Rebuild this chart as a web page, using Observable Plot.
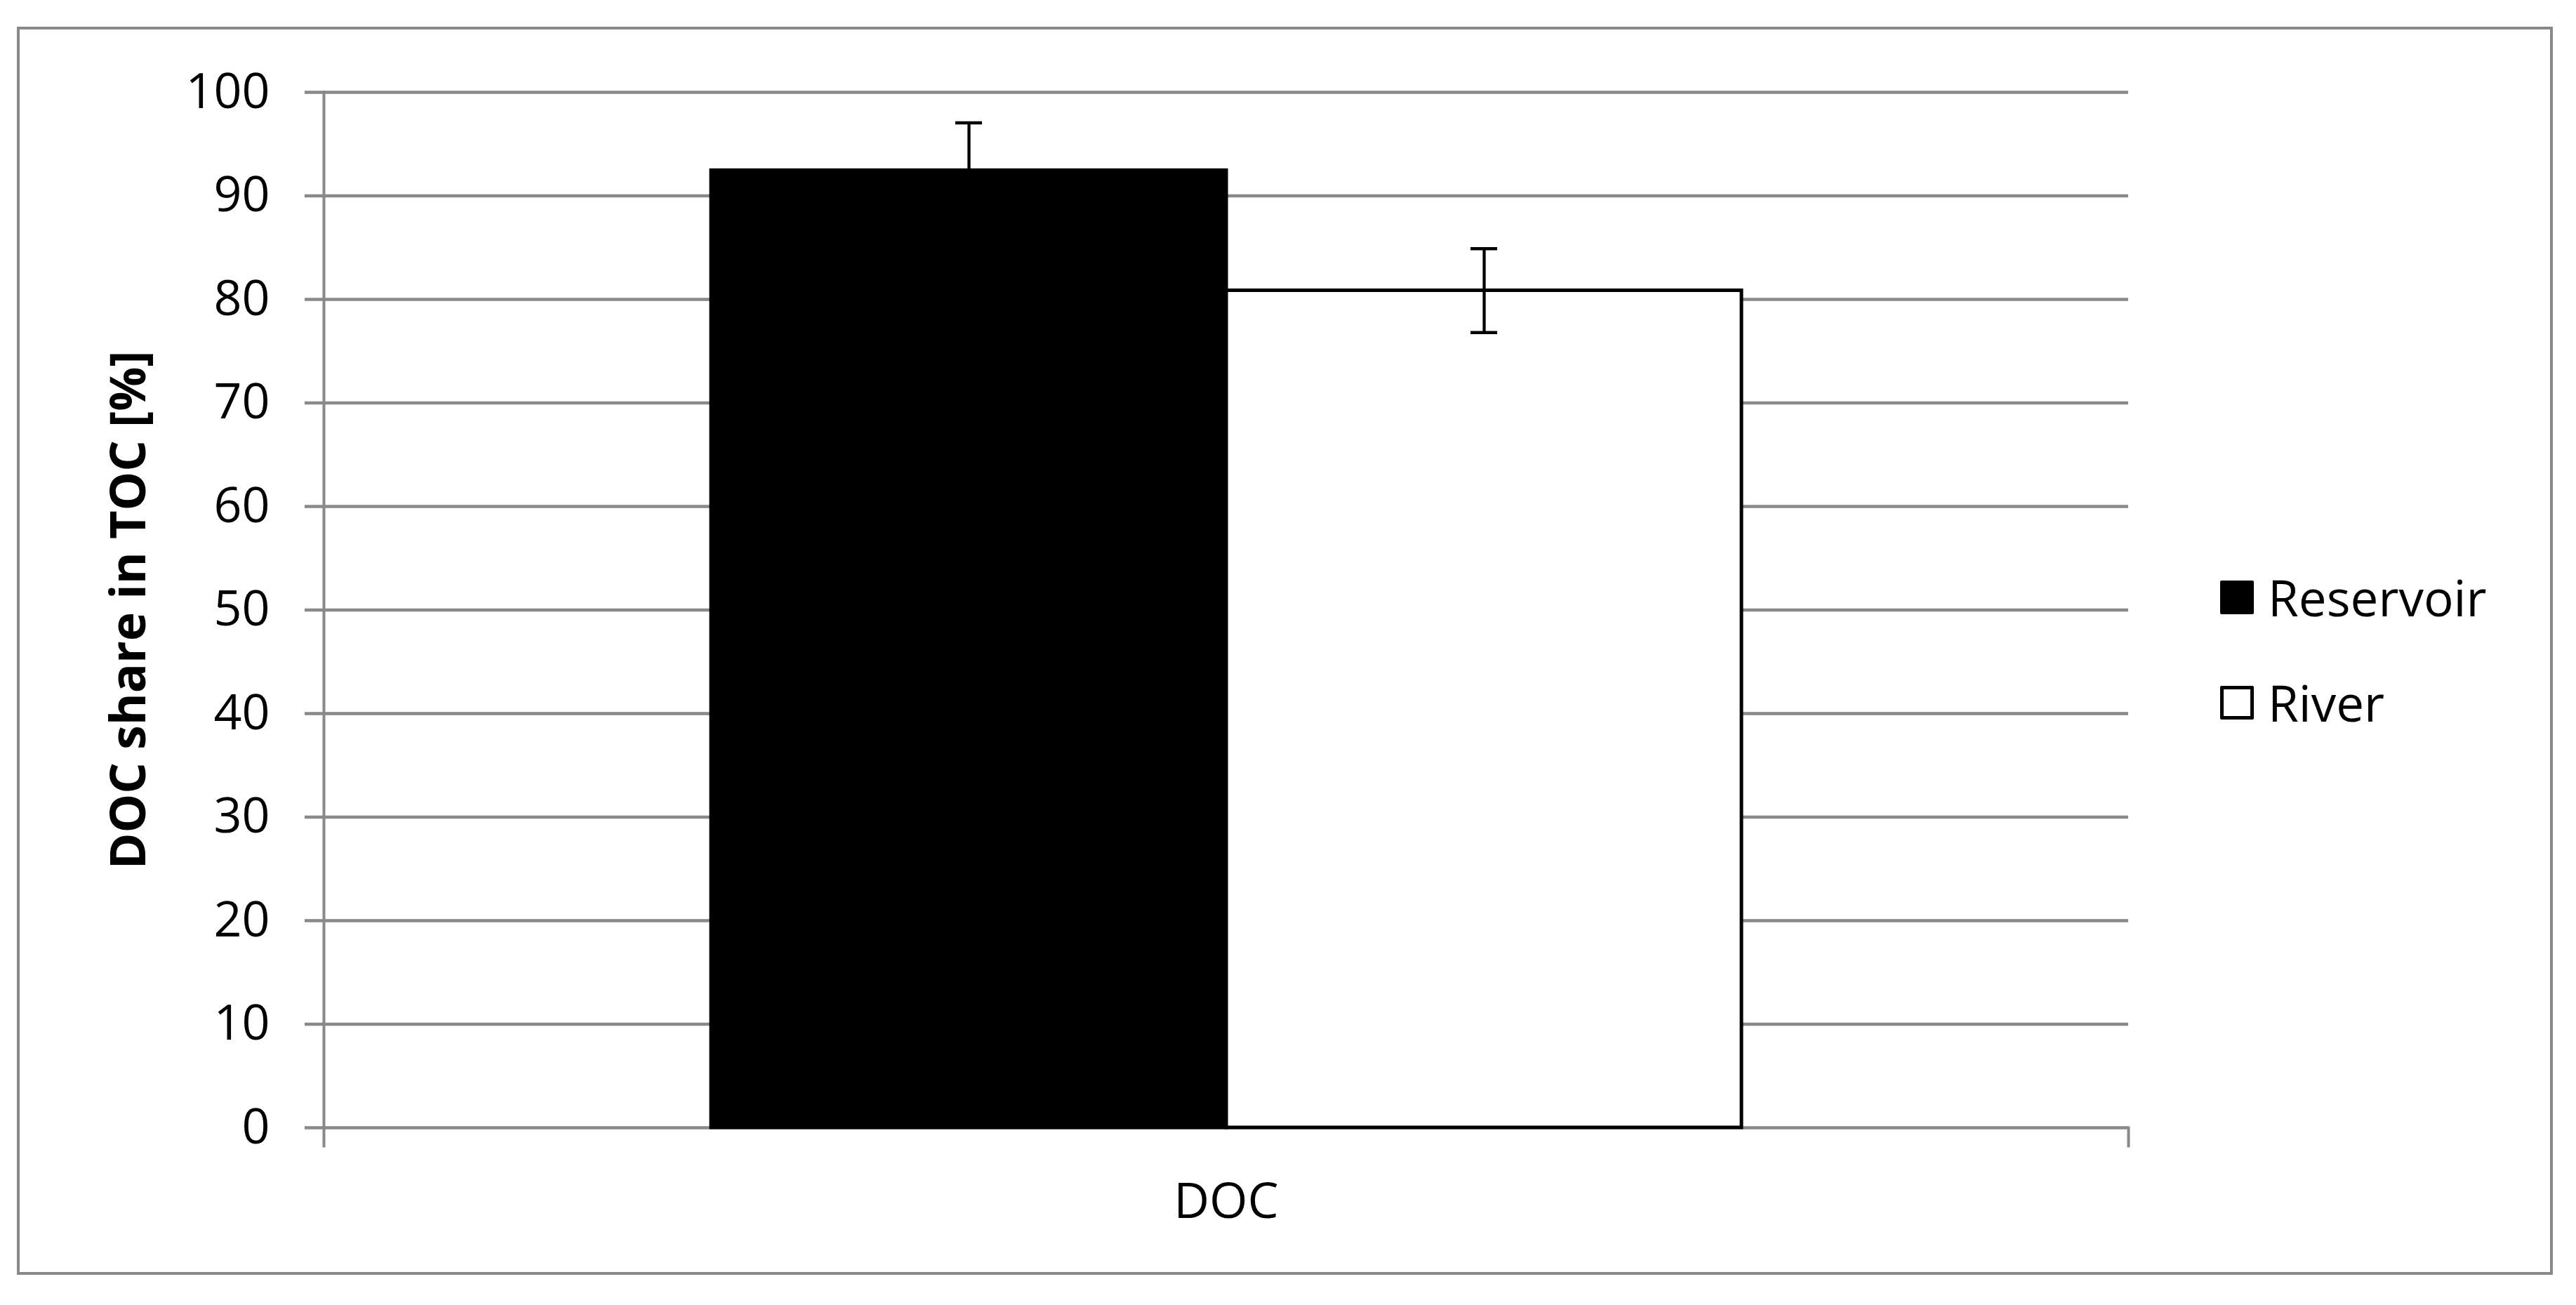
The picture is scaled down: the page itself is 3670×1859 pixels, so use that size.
<!DOCTYPE html>
<html>
<head>
<meta charset="utf-8">
<script src="https://cdn.jsdelivr.net/npm/d3@7"></script>
<script src="https://cdn.jsdelivr.net/npm/@observablehq/plot@0.6"></script>
<style>
  html, body { margin: 0; padding: 0; background: #fff; overflow: hidden; }
  #wrap { position: relative; width: 3670px; height: 1859px; background: #fff; font-family: "Open Sans", sans-serif; }
  #chart { position: absolute; left: 0; top: 0; }
  #border { position: absolute; left: 24px; top: 38px; width: 3613px; height: 1778px; box-sizing: border-box; border: 4px solid #898989; pointer-events: none; }
  #legend { position: absolute; left: 3163px; top: 816px; font-family: "Open Sans", sans-serif; font-size: 71px; line-height: 70px; color: #000; }
  .item { display: flex; align-items: center; height: 70px; margin-bottom: 80px; white-space: nowrap; }
  .sw { box-sizing: border-box; width: 48px; height: 48px; margin-right: 20px; border: 5px solid #000; border-radius: 2px; }
</style>
</head>
<body>
<div id="wrap">
  <div id="chart"></div>
  <div id="legend"></div>
  <div id="border"></div>
</div>
<script>
const categories = ["DOC"];
const series = ["Reservoir", "River"];
const values = [92.45, 80.85];
const errors = [4.6, 4.05];
const seriesColors = ["#000000", "#ffffff"];
const yTicks = [0, 10, 20, 30, 40, 50, 60, 70, 80, 90, 100];
const yLabel = "DOC share in TOC [%]";

const data = series.map((s, i) => ({
  category: categories[0],
  series: s,
  value: values[i],
  lo: values[i] - errors[i],
  hi: values[i] + errors[i]
}));

const W = 3670, H = 1859;
const mt = 131, mb = 253, ml = 461, mr = 638;
const grid = "#898989";

const chart = Plot.plot({
  width: W,
  height: H,
  marginTop: mt,
  marginBottom: mb,
  marginLeft: ml,
  marginRight: mr,
  style: { fontFamily: "Open Sans", fontSize: "70px", color: "#000", background: "transparent" },
  x: { type: "band", domain: series, paddingInner: 0, paddingOuter: 0.75, axis: null },
  y: { domain: [0, 100], axis: null },
  color: { domain: series, range: seriesColors },
  marks: [
    Plot.ruleY(yTicks, { stroke: grid, strokeWidth: 4.5, insetLeft: -27 }),
    Plot.frame({ anchor: "left", stroke: grid, strokeWidth: 4, insetBottom: -26 }),
    Plot.frame({ anchor: "right", stroke: grid, strokeWidth: 4, insetTop: H - mt - mb, insetBottom: -26 }),
    Plot.axisY({ ticks: yTicks, tickSize: 0, tickPadding: 77, fontSize: 70, label: null }),
    Plot.text([yLabel], { frameAnchor: "left", textAnchor: "middle", rotate: -90, lineAnchor: "top", dx: -304, fontSize: 70, fontWeight: "bold" }),
    Plot.barY(data, { x: "series", y: "value", fill: "series", stroke: "#000", strokeWidth: 5 }),
    Plot.ruleX(data, { x: "series", y1: "lo", y2: "hi", stroke: "#000", strokeWidth: 4.3 }),
    Plot.tickY(data, { x: "series", y: "hi", stroke: "#000", strokeWidth: 4.5, insetLeft: 348, insetRight: 348 }),
    Plot.tickY(data, { x: "series", y: "lo", stroke: "#000", strokeWidth: 4.5, insetLeft: 348, insetRight: 348 }),
    Plot.text(categories, { frameAnchor: "bottom", lineAnchor: "top", dy: 79, fontSize: 70 })
  ]
});
document.getElementById("chart").appendChild(chart);

const legend = document.getElementById("legend");
series.forEach((s, i) => {
  const item = document.createElement("div");
  item.className = "item";
  const sw = document.createElement("div");
  sw.className = "sw";
  sw.style.background = seriesColors[i];
  const t = document.createElement("span");
  t.textContent = s;
  item.appendChild(sw);
  item.appendChild(t);
  legend.appendChild(item);
});
</script>
</body>
</html>
